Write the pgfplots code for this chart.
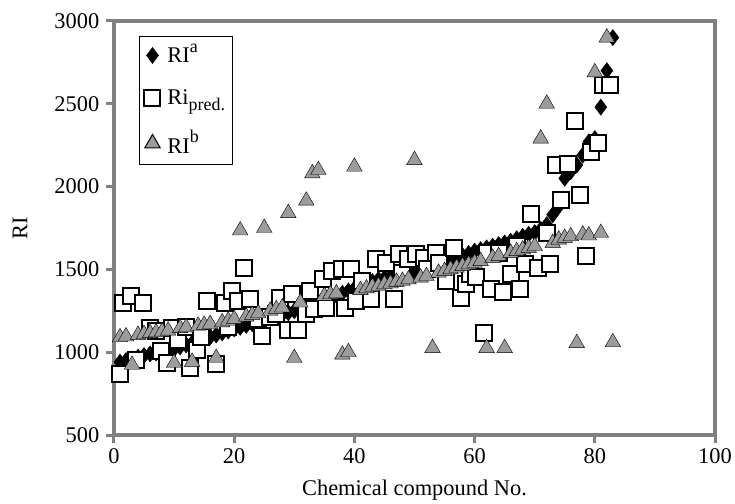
\documentclass[border=0pt]{standalone}
\usepackage{fontspec}
\setmainfont{Liberation Serif}
\usepackage{pgfplots}
\usepackage{pgfplotstable}
\pgfplotsset{compat=1.18}
\definecolor{axgray}{HTML}{808080}
\definecolor{trigray}{HTML}{9C9C9C}

\pgfplotstableread{
x y
1 940
2 950
3 960
4 970
5 980
6 990
7 995
8 1005
9 1012
10 1020
11 1032
12 1044
13 1056
14 1068
15 1080
16 1092
17 1104
18 1116
19 1128
20 1140
21 1150
22 1161
23 1172
24 1183
25 1194
26 1205
27 1216
28 1227
29 1238
30 1250
31 1263
32 1276
33 1290
34 1303
35 1316
36 1330
37 1343
38 1356
39 1370
40 1384
41 1398
42 1412
43 1426
44 1440
45 1448
46 1455
47 1463
48 1470
49 1478
50 1485
51 1492
52 1500
53 1514
54 1528
55 1541
56 1555
57 1569
58 1583
59 1596
60 1610
61 1620
62 1630
63 1640
64 1650
65 1660
66 1670
67 1685
68 1700
69 1712
70 1722
71 1742
72 1770
73 1830
74 1880
75 2050
76 2090
77 2130
78 2190
79 2270
80 2290
81 2480
82 2700
83 2900
}\ria

\pgfplotstableread{
x y
1 870
1.5 1300
2.8 1340
3.6 955
4.8 1300
6 1145
7 1130
7.8 1010
8.9 935
9.7 1145
10.7 1075
12 1150
12.7 905
13.8 1013
14.4 1090
15.5 1312
16.9 930
18.5 1300
19 1150
19.7 1371
20.6 1312
21.7 1508
22.6 1324
24 1200
24.7 1100
26 1210
27 1230
27.6 1330
28.9 1133
29.6 1353
30.6 1133
32 1230
32.6 1371
33.2 1260
34.7 1443
35.3 1264
36.2 1491
37.9 1503
38.5 1264
39.4 1503
40.2 1312
41.3 1431
42.8 1324
43.6 1562
45.3 1538
46.6 1324
47.4 1592
48 1480
49 1562
50.2 1592
51.6 1568
52 1500
53.6 1598
54 1540
55.3 1431
56.5 1628
57.7 1330
58.5 1413
59.3 1473
60.3 1455
61.5 1115
62 1600
62.8 1383
64 1600
64.8 1365
66 1473
67 1640
67.6 1383
68.4 1532
69.4 1837
70.6 1508
72 1720
72.6 1532
73.6 2129
74.4 1920
75.5 2135
76.7 2398
77.5 1950
78.5 1580
79.3 2206
80.5 2266
81.3 2612
82.6 2612
}\rip

\pgfplotstableread{
x y
1 1090
2 1095
3 924
4 1105
5 1110
6 1115
7 1120
8 1125
9 1130
10 935
11 1145
12 1150
13 942
14 1160
15 1165
16 1170
17 965
18 1180
19 1190
20 1200
21 1735
22 1215
23 1225
24 1235
25 1750
26 1250
27 1260
28 1270
29 1840
30 965
31 1300
32 1915
33 2080
34 2100
35 1340
36 1350
37 1355
38 985
39 1000
40 2120
41 1375
42 1385
43 1395
44 1400
45 1410
46 1415
47 1425
48 1430
49 1440
50 2160
51 1450
52 1460
53 1025
54 1480
55 1490
56 1500
57 1510
58 1520
59 1530
60 1540
61 1550
62 1025
63 1570
64 1580
65 1025
66 1600
67 1610
68 1620
69 1630
70 1640
71 2290
72 2500
73 1660
74 1680
75 1690
76 1700
77 1055
78 1710
79 1705
80 2690
81 1720
82 2900
83 1060
}\rib

\begin{document}
\fontsize{22.5}{27}\selectfont
\begin{tikzpicture}
\begin{axis}[
  scale only axis, width=601bp, height=414bp,
  xmin=0, xmax=100, ymin=500, ymax=3000,
  xtick={0,20,...,100}, ytick={500,1000,...,3000},
  tick align=outside, tick pos=left,
  axis line style={axgray, line width=3.5bp},
  major tick style={axgray, line width=3bp},
  major tick length=8bp,
  /pgf/number format/assume math mode=true,
  /pgf/number format/1000 sep={},
  tick label style={font=\fontsize{22.5}{27}\selectfont},
  yticklabel style={xshift=1bp},
  xticklabel style={yshift=2bp},
  label style={font=\fontsize{22.5}{27}\selectfont},
  xlabel={Chemical compound No.}, ylabel={RI},
  xlabel style={at={(axis description cs:0.5,0)}, anchor=center, yshift=-55bp},
  ylabel style={at={(axis description cs:0,0.5)}, anchor=center, yshift=94bp},
  legend cell align=left,
  legend style={at={(0,1)}, anchor=north west, xshift=25bp, yshift=-15bp,
    draw=black, line width=1bp, inner xsep=5bp, inner ysep=6bp,
    row sep=19bp, font=\fontsize{22.5}{27}\selectfont,
    /tikz/every odd column/.append style={column sep=5bp}},
]
\coordinate (o) at (rel axis cs:0,0);
\addplot[only marks, mark=diamond*, mark size=8bp, draw=black, fill=black, mark options={line width=0.5bp}] table[x=x,y=y] {\ria};
\addlegendentry{RI\raisebox{0.45em}{\fontsize{18}{18}\selectfont a}}
\addplot[only marks, mark=square*, mark size=8bp, mark options={draw=black, fill=white, line width=2bp}] table[x=x,y=y] {\rip};
\addlegendentry{Ri\raisebox{-0.3em}{\fontsize{18}{18}\selectfont pred.}}
\addplot[only marks, mark=triangle*, mark size=9bp, mark options={draw=none, fill=trigray}] table[x=x,y=y] {\rib};
\addlegendentry{RI\raisebox{0.45em}{\fontsize{18}{18}\selectfont b}}
\end{axis}
\pgfresetboundingbox
\path ([xshift=-114bp,yshift=-69bp]o) rectangle ++(735bp,504bp);
\end{tikzpicture}
\end{document}
